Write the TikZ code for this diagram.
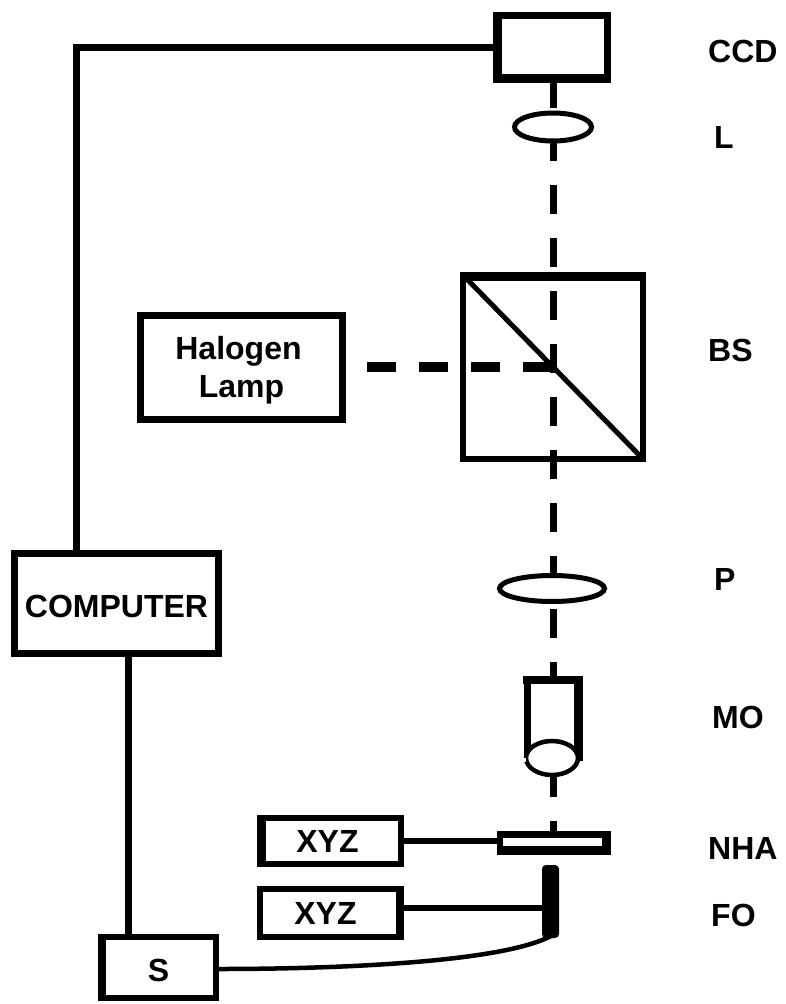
\documentclass[tikz,border=0pt]{standalone}
\usepackage{fontspec}
\usetikzlibrary{shapes.geometric}
\setmainfont{Liberation Sans}
\begin{document}
\begin{tikzpicture}[x=1pt,y=-1pt,
  box/.style={draw=black,line width=6pt,fill=white,inner sep=0pt,font=\bfseries\fontsize{32}{38}\selectfont,align=center},
  lens/.style={draw=black,line width=5pt,fill=white,shape=ellipse,inner sep=0pt},
  lbl/.style={font=\bfseries\fontsize{32}{38}\selectfont,inner sep=0pt,anchor=base west},
  wire/.style={line width=7pt},
  beam/.style={line width=7pt,dash pattern=on 28.5pt off 24.5pt},
  hbeam/.style={line width=10pt,dash pattern=on 29pt off 23pt}]
\useasboundingbox (0,0) rectangle (785,1004);
% coordinates
\coordinate (topc) at (76,47.5);
\coordinate (lowc) at (128,800);
\coordinate (bsc) at (553,367);
\coordinate (lampgap) at (367,367);
\coordinate (w2) at (404,908);
\coordinate (sw) at (219,969);
\coordinate (fob) at (551,936);
% instruments
\node[box,minimum width=204pt,minimum height=100pt,line width=7pt,text height=27pt,text depth=0pt] (comp) at (116.5,603.5) {COMPUTER};
\node[box,line width=7pt,minimum width=111pt,minimum height=64pt] (ccd) at (552,47.5) {};
\fill (493,12) rectangle (502,83);
\fill (493,74) rectangle (611,83);
\draw[wire] (ccd.west) -- (topc) -- (topc |- comp.north);
\draw[wire] (lowc |- comp.south) -- (lowc) -- (lowc |- 0,936);
\node[box,minimum width=180pt,minimum height=184pt] (bs) at (553,367) {};
\fill (460,272) rectangle (646,281);
\draw[line width=5pt,shorten >=3pt,shorten <=5pt] (bs.north west) -- (bs.south east);
\node[box,line width=7pt,minimum width=202pt,minimum height=104pt] (lamp) at (241.5,367.5) {\hspace*{-6pt}\rule{0pt}{28pt}Halogen\\Lamp};
\node[box,minimum width=141pt,minimum height=46pt,text height=22pt,text depth=0pt] (x1) at (330.5,841) {\hspace*{-6pt}XYZ};
\fill (257,815) rectangle (266,867);
\node[box,minimum width=141pt,minimum height=48pt,text height=22pt,text depth=0pt] (x2) at (330.5,913) {\hspace*{-10pt}XYZ};
\fill (396,886) rectangle (404,940);
\node[box,minimum width=115pt,minimum height=61pt,text height=27pt,text depth=0pt] (s) at (158.5,967.5) {S};
\fill (98,934) rectangle (106,1001);
\node[box,minimum width=108pt,minimum height=18pt] (nha) at (554,843) {};
\fill (497,846) rectangle (611,855);
\fill (602,831) rectangle (611,855);
\fill (497,831) rectangle (611,838);
\node[fill=black,rounded corners=4pt,inner sep=0pt,minimum width=17pt,minimum height=73pt] (fo) at (550.5,901.5) {};
% connectors
\draw[line width=6.5pt] (x1.east) -- (x1.east -| nha.west);
\draw[line width=6.5pt] (w2) -- (w2 -| fo.west);
\draw[line width=4.5pt] (sw) .. controls (330,969) and (500,963) .. (fob);
% beams
\draw[beam,dash phase=4pt] (bsc |- ccd.south) -- (bsc |- nha.north);
\draw[hbeam] (lampgap) -- (bsc);
\draw[line width=5pt] (bsc) -- ++(4,4);
% optics over the beam
\node[lens,minimum width=77pt,minimum height=28pt] (l) at (553,127) {};
\node[lens,minimum width=105pt,minimum height=26pt] (p) at (552,588.5) {};
\node[draw=black,line width=7pt,fill=white,inner sep=0pt,minimum width=52pt,minimum height=78pt] (mo) at (553,718.5) {};
\fill (574,676) rectangle (583,758);
\fill (523,676) rectangle (583,684);
\draw[draw=black,line width=4.5pt,fill=white] (552,758) ellipse (26pt and 17pt);
\fill[white] (523,762) rectangle (526,758);
\foreach \t/\x/\y in {CCD/708/62,L/714/148,BS/708/361,P/714/590,MO/712/728,NHA/708/859,FO/711/926}
  \node[lbl] (n\t) at (\x,\y) {\t};
\end{tikzpicture}
\end{document}
